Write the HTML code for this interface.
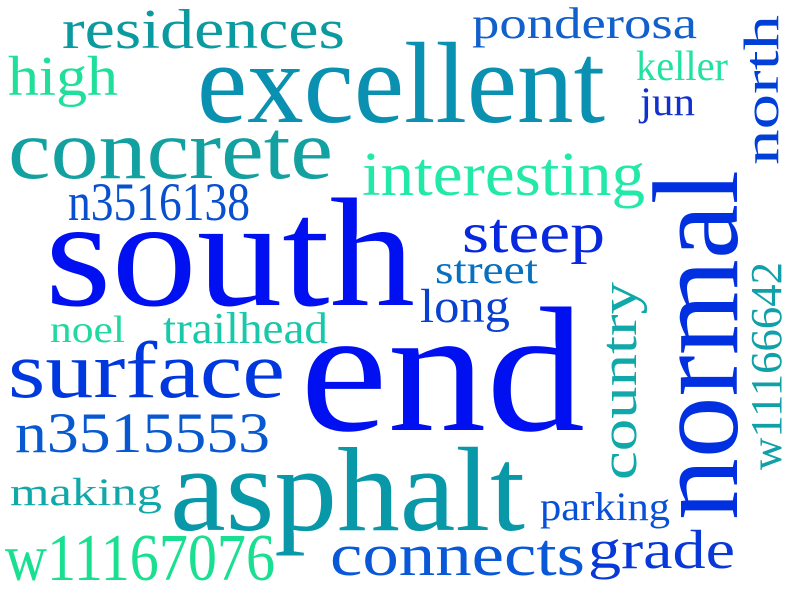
<!DOCTYPE html>
<html><head><meta charset="utf-8"><style>
html,body{margin:0;padding:0;background:#fff;}
svg{display:block}
text{font-family:"Liberation Serif",serif;}
</style></head><body>
<svg width="800" height="600">
<g id="g"></g>
</svg>
<script>
const words=["residences","ponderosa","high","excellent","keller","jun","north","concrete","interesting","normal","n3516138","south","steep","street","long","country","w11166642","noel","trailhead","surface","end","n3515553","making","asphalt","parking","w11167076","connects","grade"];
const sizes=[56,44,56,115,42,40,50,85,62,122,54,155,57,40,48,52,44,38,44,80,178,57,39,120,40,67,60,55];
const colors=["#0a9aa0","#1260cc","#1ee09a","#0a90b0","#22e2a2","#1030d0","#0040d8","#12a0a0","#22e8a8","#0030e0","#0850d0","#0010f0","#0828e0","#0870c0","#0840d0","#10a8a8","#10a0a8","#20d8a0","#18c8a8","#0038e0","#0010f0","#0858d0","#10a8a8","#0898a8","#0850d8","#18e090","#0858d8","#0838d8"];
// layout: [x, baseline, length, rotated]
const layout=[[62,48,283,0],[472,38,225,0],[8,95,110,0],[197,122,408,0],[636,80,92,0],[640,115,55,0],[778,165,150,1],[8,178,325,0],[362,195,283,0],[737,520,350,1],[68,220,182,0],[45,305,370,0],[462,252,143,0],[435,283,103,0],[420,322,90,0],[636,480,198,1],[781,470,208,1],[50,342,75,0],[163,343,165,0],[8,397,277,0],[300,430,285,0],[15,452,255,0],[10,505,152,0],[170,530,355,0],[540,520,130,0],[5,580,270,0],[330,575,255,0],[588,568,147,0]];
const g=document.getElementById('g');
words.forEach((w,i)=>{
 const t=document.createElementNS('http://www.w3.org/2000/svg','text');
 const [x,y,len,rot]=layout[i];
 
 
 t.setAttribute('font-size',sizes[i]);
 t.setAttribute('fill',colors[i]);
 t.setAttribute('textLength',len);
 t.setAttribute('lengthAdjust','spacingAndGlyphs');
 if(rot){t.setAttribute('transform','translate('+x+','+y+') rotate(-90)');}
 else{t.setAttribute('x',x);t.setAttribute('y',y);}
 t.textContent=w;
 g.appendChild(t);
});
</script>
</body></html>
